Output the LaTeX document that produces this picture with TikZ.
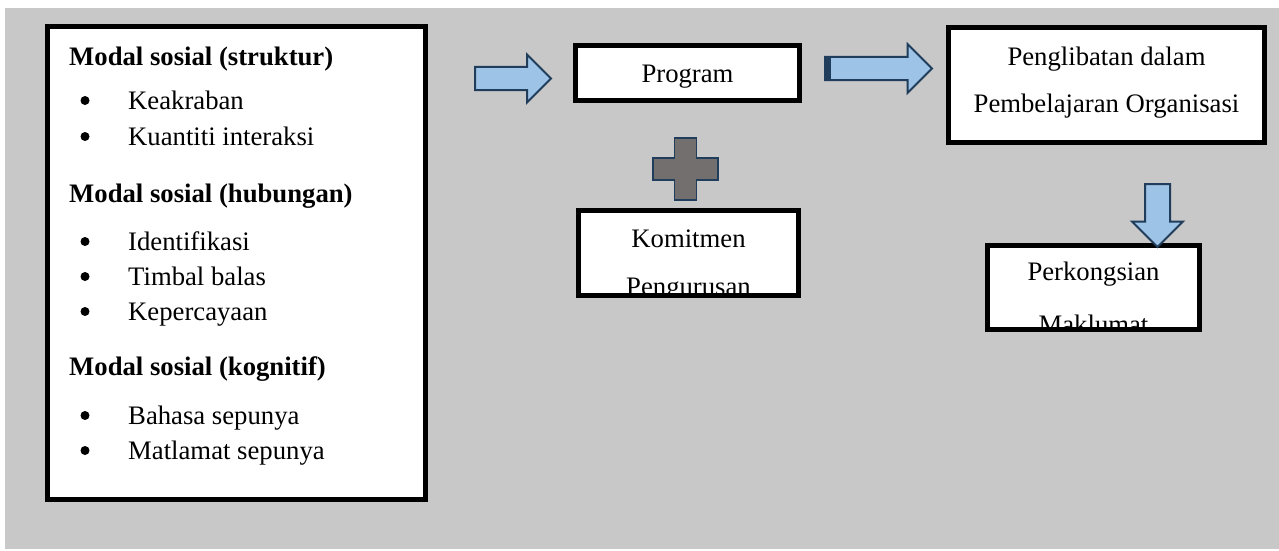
\documentclass[tikz,border=0pt]{standalone}
\usepackage{fontspec}
\setmainfont{Liberation Serif}
\usetikzlibrary{shapes.arrows,positioning,calc}

\definecolor{bggray}{HTML}{C8C8C8}
\definecolor{arrowfill}{HTML}{9DC3E6}
\definecolor{arrowline}{HTML}{203D5C}
\definecolor{plusfill}{HTML}{746F6F}

\tikzset{
  box/.style={draw=black, fill=white, line width=5pt, inner sep=0pt, outer sep=0pt},
  boxborder/.style={draw=black, line width=5pt},
  boxtext/.style={font=\fontsize{26.7}{32}\selectfont, inner sep=0pt, anchor=base},
  bulletdot/.style={circle, fill=black, inner sep=0pt, minimum size=9pt},
  blockarrow/.style={single arrow, draw=arrowline, fill=arrowfill, line width=2pt,
    inner sep=0pt, anchor=tail},
}

\begin{document}
\begin{tikzpicture}[x=1pt, y=-1pt]
    \useasboundingbox (0,0) rectangle (1279,551);
    \fill[bggray] (5,8) rectangle (1279,549);

    % Social capital box
    \node[box, minimum width=378pt, minimum height=473pt] (social) at (236.5,263) {};
    \foreach \y/\txt in {66/Modal sosial (struktur), 202/Modal sosial (hubungan), 375/Modal sosial (kognitif)}
        \node[boxtext, anchor=base west, font=\fontsize{26.7}{32}\selectfont\bfseries] (head\y) at (69,\y) {\txt};
    \foreach \y/\txt in {109/Keakraban, 145/Kuantiti interaksi, 250/Identifikasi, 285/Timbal balas,
                         320/Kepercayaan, 424/Bahasa sepunya, 459/Matlamat sepunya} {
        \node[bulletdot] (bul\y) at (85,\y-8.5) {};
        \node[boxtext, anchor=base west] (item\y) at (128,\y) {\txt};
    }

    % Program box
    \node[box, minimum width=224pt, minimum height=55pt] (prog) at (687.5,73) {};
    \node[boxtext] (progtxt) at (687.5,82) {Program};

    % Commitment box (text cut by the frame)
    \node[box, minimum width=220pt, minimum height=85pt] (komit) at (688.5,253) {};
    \begin{scope}
        \clip (komit.north west) rectangle (komit.south east);
        \node[boxtext] (komit1) at (688.5,247) {Komitmen};
        \node[boxtext] (komit2) at (688.5,295) {Pengurusan};
    \end{scope}
    \draw[boxborder] (komit.north west) rectangle (komit.south east);

    % Involvement box
    \node[box, minimum width=316pt, minimum height=115pt] (libat) at (1106.5,85) {};
    \node[boxtext] (libat1) at (1106.5,66) {Penglibatan dalam};
    \node[boxtext] (libat2) at (1106.5,112) {Pembelajaran Organisasi};

    % Sharing box (text cut by the frame)
    \node[box, minimum width=212pt, minimum height=84pt] (kongsi) at (1093.5,287.5) {};
    \begin{scope}
        \clip (kongsi.north west) rectangle (kongsi.south east);
        \node[boxtext] (kongsi1) at (1093.5,280) {Perkongsian};
        \node[boxtext] (kongsi2) at (1093.5,333) {Maklumat};
    \end{scope}
    \draw[boxborder] (kongsi.north west) rectangle (kongsi.south east);

    % Block arrows
    \node[blockarrow, text height=10.5pt, text depth=10.5pt, minimum height=76pt,
        minimum width=46pt, single arrow head extend=12.5pt] (arrowA) at (474,78.5) {};
    \node[blockarrow, text height=10.5pt, text depth=10.5pt, minimum height=107pt,
        minimum width=47pt, single arrow head extend=13pt] (arrowB) at (824,68.5) {};
    \fill[arrowline] (arrowB.before tail) rectangle ($(arrowB.after tail)+(7,0)$);
    \node[blockarrow, rotate=-90, text height=11.5pt, text depth=11.5pt, minimum height=63pt,
        minimum width=49pt, single arrow head extend=13pt] (arrowC) at (1157.5,183) {};

    % Plus sign
    \draw[fill=plusfill, draw=arrowline, line width=1.5pt]
        (674.5,138) -- (696.5,138) -- (696.5,158) -- (718,158) -- (718,180) -- (696.5,180)
        -- (696.5,200) -- (674.5,200) -- (674.5,180) -- (653,180) -- (653,158) -- (674.5,158) -- cycle;
\end{tikzpicture}
\end{document}
